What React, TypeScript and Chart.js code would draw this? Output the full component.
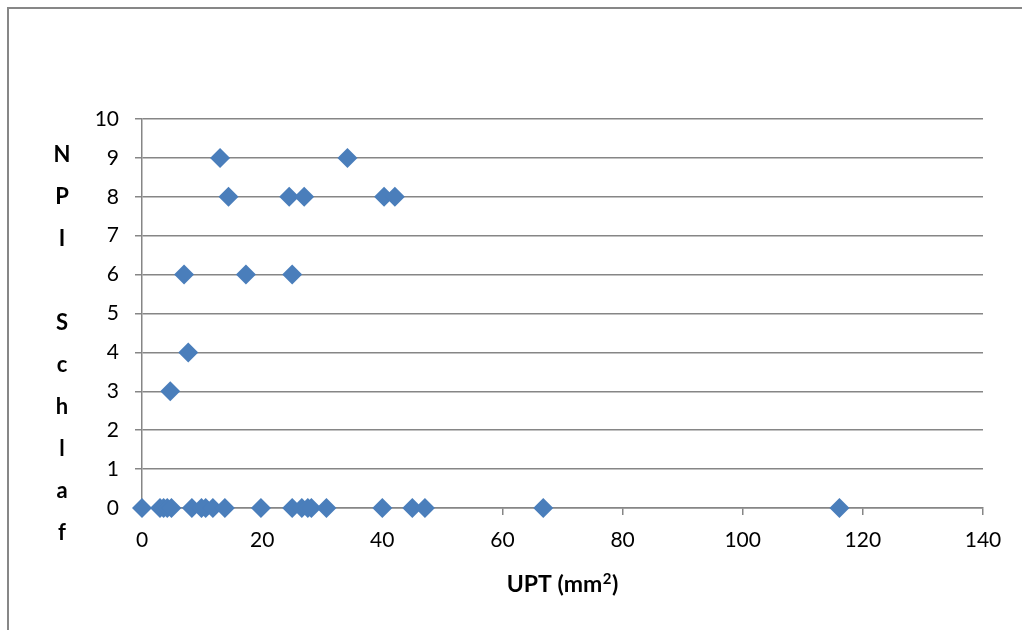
import React, { useEffect, useRef } from "react";
import { Chart, registerables } from "chart.js";

Chart.register(...registerables);

// UPT (mm²) values and matching NPI Schlaf scores
const uptValues = [
  0, 3.0, 3.6, 4.2, 4.9, 8.3, 9.9, 10.6, 11.8, 13.8, 19.8, 25.0, 26.6, 27.6, 28.2, 30.7, 40.0, 45.0, 47.1, 66.8, 116.1,
  13.0, 34.2, 14.4, 24.5, 27.0, 40.3, 42.1, 7.0, 17.3, 25.0, 7.7, 4.7,
];
const npiValues = [
  0, 0, 0, 0, 0, 0, 0, 0, 0, 0, 0, 0, 0, 0, 0, 0, 0, 0, 0, 0, 0,
  9, 9, 8, 8, 8, 8, 8, 6, 6, 6, 4, 3,
];
const yTitleLetters = ["N", "P", "I", "", "S", "c", "h", "l", "a", "f"];
const xTitleParts = ["UPT (mm", "2", ")"];

const GRID = "#868686";
const FONT = "Lato, 'Open Sans', sans-serif";

export default function App() {
  const ref = useRef<HTMLCanvasElement | null>(null);
  useEffect(() => {
    if (!ref.current) return;
    const points = uptValues.map((x, i) => ({ x, y: npiValues[i] }));
    const yTitlePlugin = {
      id: "yTitleStack",
      afterDraw(chart: any) {
        const ctx = chart.ctx;
        ctx.save();
        ctx.fillStyle = "#000";
        ctx.font = `bold 22px ${FONT}`;
        ctx.textAlign = "center";
        ctx.textBaseline = "alphabetic";
        yTitleLetters.forEach((l, i) => {
          if (l) ctx.fillText(l, 62, 162 + i * 42);
        });
        // x title with a real superscript
        const big = `bold 23px ${FONT}`;
        const small = `bold 15px ${FONT}`;
        ctx.textAlign = "left";
        ctx.font = big;
        const w1 = ctx.measureText(xTitleParts[0]).width;
        const w3 = ctx.measureText(xTitleParts[2]).width;
        ctx.font = small;
        const w2 = ctx.measureText(xTitleParts[1]).width + 1;
        const total = w1 + w2 + w3;
        const cx = (chart.chartArea.left + chart.chartArea.right) / 2;
        let x = cx - total / 2;
        const base = 592;
        ctx.font = big;
        ctx.fillText(xTitleParts[0], x, base);
        x += w1;
        ctx.font = small;
        ctx.fillText(xTitleParts[1], x + 0.5, base - 8);
        x += w2;
        ctx.font = big;
        ctx.fillText(xTitleParts[2], x, base);
        ctx.restore();
      },
    };
    const chart = new Chart(ref.current, {
      type: "scatter",
      data: {
        datasets: [
          {
            data: points,
            pointStyle: "rectRot",
            pointRadius: 10,
            pointBackgroundColor: "#4A7EBB",
            pointBorderColor: "#4A7EBB",
            pointBorderWidth: 0,
            showLine: false,
            clip: false,
          },
        ],
      },
      options: {
        animation: false,
        responsive: false,
        layout: { padding: { left: 0, top: 119, right: 39, bottom: 0 } },
        plugins: { legend: { display: false }, tooltip: { enabled: false } },
        scales: {
          x: {
            type: "linear",
            min: 0,
            max: 140,
            afterFit: (s: any) => {
              s.height = 122;
            },
            ticks: { stepSize: 20, color: "#000", font: { family: FONT, size: 21 }, padding: 13, maxRotation: 0 },
            grid: { drawOnChartArea: false, drawTicks: true, tickLength: 7, color: GRID, lineWidth: 1.5 },
            border: { display: true, color: GRID, width: 1.5 },
          },
          y: {
            type: "linear",
            min: 0,
            max: 10,
            afterFit: (s: any) => {
              s.width = 142;
            },
            ticks: { stepSize: 1, color: "#000", font: { family: FONT, size: 21 }, padding: 16 },
            grid: { drawOnChartArea: true, drawTicks: true, tickLength: 7, color: GRID, lineWidth: 1.5 },
            border: { display: true, color: GRID, width: 1.5 },
          },
        },
      },
      plugins: [yTitlePlugin],
    });
    return () => chart.destroy();
  }, []);
  return (
    <div style={{ position: "absolute", left: 0, top: 0, width: 1022, height: 630, overflow: "hidden", background: "#fff" }}>
      <div
        style={{
          position: "absolute",
          left: 7,
          top: 7,
          width: 1100,
          height: 700,
          border: "2px solid #878787",
          boxSizing: "border-box",
        }}
      />
      <canvas ref={ref} width={1022} height={630} style={{ position: "absolute", left: 0, top: 0 }} />
    </div>
  );
}
